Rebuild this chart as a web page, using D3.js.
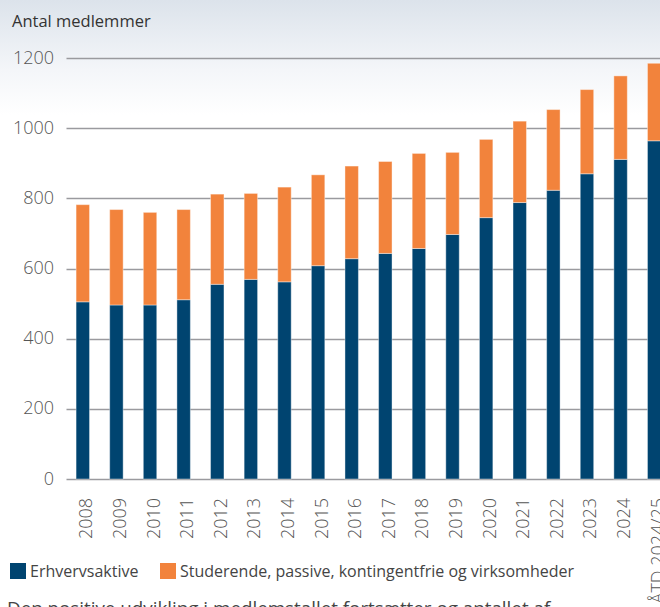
<!DOCTYPE html>
<html>
<head>
<meta charset="utf-8">
<script src="https://cdn.jsdelivr.net/npm/d3@7"></script>
<style>
    html, body {
        margin: 0;
        padding: 0;
        width: 660px;
        height: 607px;
        overflow: hidden;
        background: linear-gradient(#dce3eb 0px, #f4f6f9 70px, #ffffff 115px);
        font-family: "Open Sans", sans-serif;
    }
    svg { display: block; }
</style>
</head>
<body>
<div id="chart"></div>
<script>
// chart data
var years = ["2008", "2009", "2010", "2011", "2012", "2013", "2014", "2015", "2016",
    "2017", "2018", "2019", "2020", "2021", "2022", "2023", "2024", "ÅTD 2024/25"];
var erhvervsaktive = [505, 496, 496, 511, 555, 569, 562, 608, 628,
    643, 657, 697, 745, 788, 823, 870, 911, 964];
var studerende = [277, 272, 264, 257, 257, 245, 270, 259, 264,
    262, 271, 234, 223, 232, 230, 240, 238, 221];
var yTicks = [0, 200, 400, 600, 800, 1000, 1200];
var seriesNames = ["Erhvervsaktive", "Studerende, passive, kontingentfrie og virksomheder"];
var seriesColors = ["#004470", "#f2833c"];

var width = 660, height = 607;

var svg = d3.select("#chart")
    .append("svg")
    .attr("width", width)
    .attr("height", height);

var x = d3.scaleBand()
    .domain(years)
    .range([66, 671])
    .paddingInner(0.6)
    .paddingOuter(0.3);

var y = d3.scaleLinear()
    .domain([0, 1200])
    .range([479, 58]);

// title
svg.append("text")
    .attr("x", 12)
    .attr("y", 27)
    .style("font-size", "16.5px")
    .style("fill", "#333")
    .text("Antal medlemmer");

// grid lines + y labels
var grid = svg.append("g");
grid.selectAll("line")
    .data(yTicks)
    .enter()
    .append("line")
    .attr("x1", 66.5)
    .attr("x2", width)
    .attr("y1", function(d) { return Math.round(y(d)) + 0.5; })
    .attr("y2", function(d) { return Math.round(y(d)) + 0.5; })
    .style("stroke", "#9a9a9e")
    .style("stroke-width", 1.5);

grid.selectAll("text")
    .data(yTicks)
    .enter()
    .append("text")
    .attr("x", 54)
    .attr("y", function(d) { return y(d) + 5.5; })
    .attr("text-anchor", "end")
    .style("font-size", "18px")
    .style("font-weight", 300)
    .style("fill", "#555")
    .text(function(d) { return d; });

// stacked bars
var rows = years.map(function(yr, i) {
    return { year: yr, a: erhvervsaktive[i], b: studerende[i] };
});
var stack = d3.stack().keys(["a", "b"])(rows);

svg.append("g")
    .selectAll("g")
    .data(stack)
    .enter()
    .append("g")
    .style("fill", function(d, i) { return seriesColors[i]; })
    .selectAll("rect")
    .data(function(d) { return d; })
    .enter()
    .append("rect")
    .attr("x", function(d) { return x(d.data.year); })
    .attr("width", x.bandwidth())
    .attr("y", function(d) { return y(d[1]); })
    .attr("height", function(d) { return y(d[0]) - y(d[1]); })
    .style("stroke", "rgba(255,255,255,0.4)")
    .style("stroke-width", 1);

// x labels
svg.append("g")
    .selectAll("text")
    .data(years)
    .enter()
    .append("text")
    .attr("transform", function(d) {
        return "translate(" + (x(d) + x.bandwidth() / 2 + 9.5) + ",498) rotate(-90)";
    })
    .attr("text-anchor", "end")
    .style("font-size", "18px")
    .style("font-weight", 300)
    .style("fill", "#555")
    .text(function(d) { return d; });

// legend
var legend = svg.append("g");
var legendX = [10, 160];
seriesNames.forEach(function(name, i) {
    legend.append("rect")
        .attr("x", legendX[i])
        .attr("y", 563)
        .attr("width", 16)
        .attr("height", 16)
        .style("fill", seriesColors[i]);
    legend.append("text")
        .attr("x", legendX[i] + 20)
        .attr("y", 577)
        .style("font-size", "16px")
        .style("fill", "#444")
        .text(name);
});

// caption text, cut off by the frame like in the original
svg.append("text")
    .attr("x", 7)
    .attr("y", 615)
    .style("font-size", "18.8px")
    .style("fill", "#444")
    .text("Den positive udvikling i medlemstallet fortsætter og antallet af");
</script>
</body>
</html>
